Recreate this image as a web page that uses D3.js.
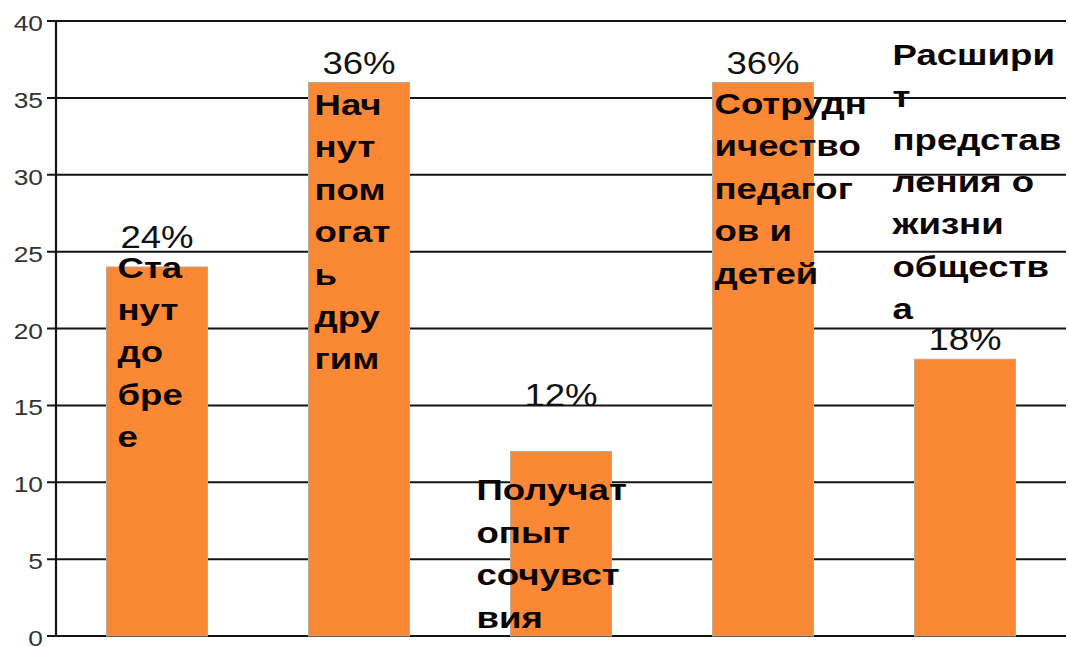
<!DOCTYPE html>
<html><head><meta charset="utf-8">
<script src="https://cdn.jsdelivr.net/npm/d3@7"></script>
<style>html,body{margin:0;padding:0;background:#fff;}svg{display:block;}</style>
</head><body>
<svg id="chart" width="1069" height="647"></svg>
<script>
// ---- data ----
const categories = ["Станут добрее", "Начнут помогать другим", "Получат опыт сочувствия", "Сотрудничество педагогов и детей", "Расширит представления о жизни общества"];
const values = [24, 36, 12, 36, 18];
const valueLabels = ["24%", "36%", "12%", "36%", "18%"];
const labelLines = [
  ["Ста", "нут", "до", "бре", "е"],
  ["Нач", "нут", "пом", "огат", "ь", "дру", "гим"],
  ["Получат", "опыт", "сочувст", "вия"],
  ["Сотрудн", "ичество", "педагог", "ов и", "детей"],
  ["Расшири", "т", "представ", "ления о", "жизни", "обществ", "а"]
];
const yTicks = [0, 5, 10, 15, 20, 25, 30, 35, 40];

// ---- layout (styling, not data) ----
const labelDx = [11, 6, -34, 2, -22];        // px from bar left edge
const labelDy = [10.6, 32.4, 48.8, 31.4, -294.5]; // first baseline relative to bar top
const valueDy = [19.4, 8.6, 46, 8.6, 8.8];   // value label baseline above bar top
const SX = 1.22, lineH = 42.4;

const svg = d3.select("#chart");
const x = d3.scaleBand().domain(categories).range([56, 1066]).paddingInner(0.5).paddingOuter(0.25);
const y = d3.scaleLinear().domain([0, 40]).range([636, 21]);

// gridlines
svg.append("g").selectAll("line").data(yTicks).join("line")
  .attr("x1", 47).attr("x2", 1066)
  .attr("y1", d => y(d)).attr("y2", d => y(d))
  .attr("stroke", "#141414").attr("stroke-width", 2);

// axis line
svg.append("line").attr("x1", 56).attr("x2", 56).attr("y1", y(40)).attr("y2", y(0))
  .attr("stroke", "#141414").attr("stroke-width", 2.2);

// tick labels
svg.append("g").selectAll("text").data(yTicks).join("text")
  .attr("transform", d => `translate(43,${y(d) + 10}) scale(1.17,1)`)
  .attr("text-anchor", "end")
  .attr("font-family", "Liberation Sans, Arial, sans-serif")
  .attr("font-size", 22.5).attr("fill", "#333")
  .text(d => d);

// bars
svg.append("g").selectAll("rect").data(values).join("rect")
  .attr("x", (d, i) => x(categories[i]))
  .attr("y", d => y(d))
  .attr("width", x.bandwidth())
  .attr("height", d => y(0) - y(d))
  .attr("fill", "#fb8834")
  .attr("stroke", "#b9a898").attr("stroke-width", 1);

// value labels
svg.append("g").selectAll("text").data(values).join("text")
  .attr("transform", (d, i) => `translate(${x(categories[i]) + x.bandwidth() / 2},${y(d) - valueDy[i]}) scale(1.2,1)`)
  .attr("text-anchor", "middle")
  .attr("font-family", "Liberation Sans, Arial, sans-serif")
  .attr("font-size", 30.5).attr("fill", "#111")
  .text((d, i) => valueLabels[i]);

// category labels
const lg = svg.append("g");
values.forEach((v, i) => {
  labelLines[i].forEach((ln, j) => {
    lg.append("text")
      .attr("transform", `translate(${x(categories[i]) + labelDx[i]},${y(v) + labelDy[i] + j * lineH}) scale(${SX},1)`)
      .attr("font-family", "Liberation Sans, Arial, sans-serif")
      .attr("font-weight", "bold")
      .attr("font-size", 30).attr("fill", "#0d0505")
      .text(ln);
  });
});
</script>
</body></html>
